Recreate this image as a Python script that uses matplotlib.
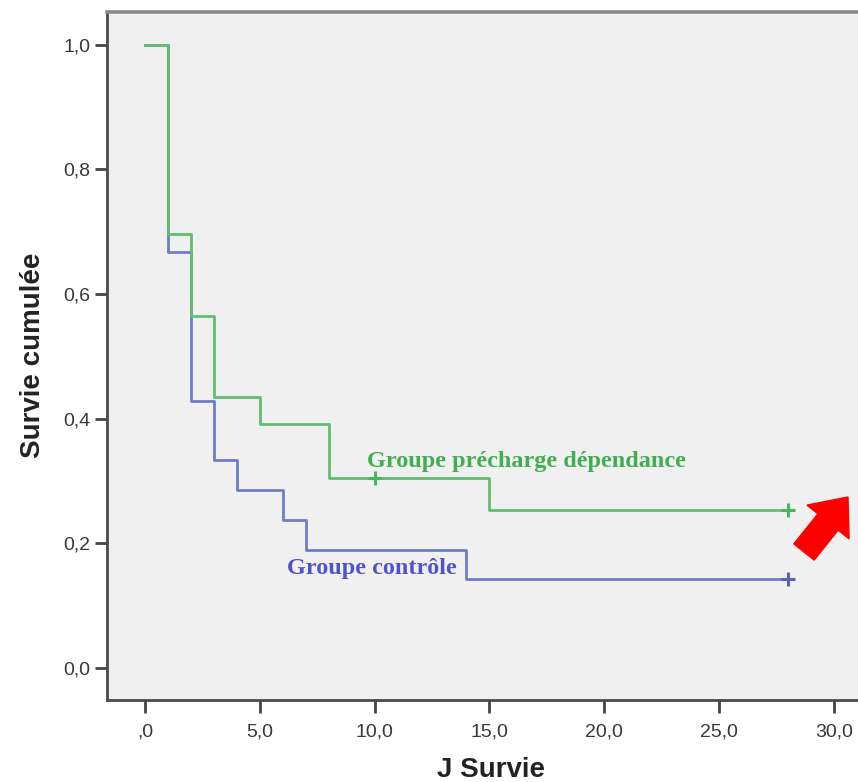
import matplotlib
matplotlib.use("Agg")
import matplotlib.pyplot as plt
from matplotlib.patches import FancyArrow
from matplotlib.transforms import IdentityTransform

# Data (Kaplan-Meier step values)
green_times = [0, 1, 2, 3, 5, 8, 15, 28]
green_surv = [1.0, 0.696, 0.565, 0.435, 0.391, 0.304, 0.254, 0.254]
green_censor_t = [10, 28]
green_censor_s = [0.304, 0.254]

blue_times = [0, 1, 2, 3, 4, 6, 7, 14, 28]
blue_surv = [1.0, 0.667, 0.429, 0.333, 0.286, 0.238, 0.190, 0.143, 0.143]
blue_censor_t = [28]
blue_censor_s = [0.143]

xticks = [0, 5, 10, 15, 20, 25, 30]
xticklabels = [",0", "5,0", "10,0", "15,0", "20,0", "25,0", "30,0"]
yticks = [0.0, 0.2, 0.4, 0.6, 0.8, 1.0]
yticklabels = ["0,0", "0,2", "0,4", "0,6", "0,8", "1,0"]

W, H = 858, 782
fig = plt.figure(figsize=(W / 100, H / 100), dpi=100)
fig.patch.set_facecolor("white")

left_px, top_px, bottom_px, right_px = 107.3, 11.5, 700, 880
ax = fig.add_axes([left_px / W, (H - bottom_px) / H,
                   (right_px - left_px) / W, (bottom_px - top_px) / H])
ax.set_facecolor("#f0f0f0")

x0_px, xs = 145.0, 22.96
y1_px, y0_px = 44.5, 668.0
ys = y0_px - y1_px
ax.set_xlim((left_px - x0_px) / xs, (right_px - x0_px) / xs)
ax.set_ylim((y0_px - bottom_px) / ys, (y0_px - top_px) / ys)

green_line = "#62bd72"
blue_line = "#6d7cc8"

ax.step(blue_times, blue_surv, where="post", color=blue_line, lw=2.0, zorder=3)
ax.step(green_times, green_surv, where="post", color=green_line, lw=2.0, zorder=4)
ax.plot(green_censor_t, green_censor_s, ls="none", marker="+", ms=10, mew=2.2,
        color="#4cb35e", zorder=5)
ax.plot(blue_censor_t, blue_censor_s, ls="none", marker="+", ms=10, mew=2.2,
        color="#5563bb", zorder=5)

ax.text(9.65, 0.331, "Groupe précharge dépendance", color="#42ae52",
        fontsize=17.5, fontweight="bold", family="Liberation Serif",
        ha="left", va="center", zorder=6)
ax.text(6.2, 0.159, "Groupe contrôle", color="#5054cc",
        fontsize=17.5, fontweight="bold", family="Liberation Serif",
        ha="left", va="center", zorder=6)

ax.set_xticks(xticks)
ax.set_xticklabels(xticklabels)
ax.set_yticks(yticks)
ax.set_yticklabels(yticklabels)
ax.tick_params(axis="both", direction="out", length=9, width=2.0,
               color="#444444", labelcolor="#383838", labelsize=14)
ax.tick_params(axis="x", pad=8)
ax.tick_params(axis="y", pad=3)
for lab in ax.get_xticklabels() + ax.get_yticklabels():
    lab.set_family("Liberation Sans")

ax.spines["left"].set_color("#4a4a4a")
ax.spines["left"].set_linewidth(2.0)
ax.spines["bottom"].set_color("#4a4a4a")
ax.spines["bottom"].set_linewidth(2.0)
ax.spines["top"].set_color("#8a8a8a")
ax.spines["top"].set_linewidth(2.6)
ax.spines["right"].set_visible(False)

ax.set_xlabel("J Survie", fontsize=20, fontweight="bold", family="Liberation Sans",
              color="#222222")
ax.set_ylabel("Survie cumulée", fontsize=20, fontweight="bold", family="Liberation Sans",
              color="#222222")
ax.xaxis.set_label_coords((491 - left_px) / (right_px - left_px), -(770 - bottom_px) / (bottom_px - top_px))
ax.yaxis.set_label_coords(-(107.3 - 33) / (right_px - left_px), (bottom_px - 355) / (bottom_px - top_px))
ax.xaxis.label.set_va("center")
ax.yaxis.label.set_va("center")

# red annotation arrow (pixel coordinates, y from bottom)
arrow = FancyArrow(804, H - 552, 44, -(497 - 552), width=26, head_width=54,
                   head_length=32, length_includes_head=True, color="#ff0000",
                   transform=IdentityTransform(), zorder=10)
fig.patches.append(arrow)

fig.savefig("out.png", dpi=100)
